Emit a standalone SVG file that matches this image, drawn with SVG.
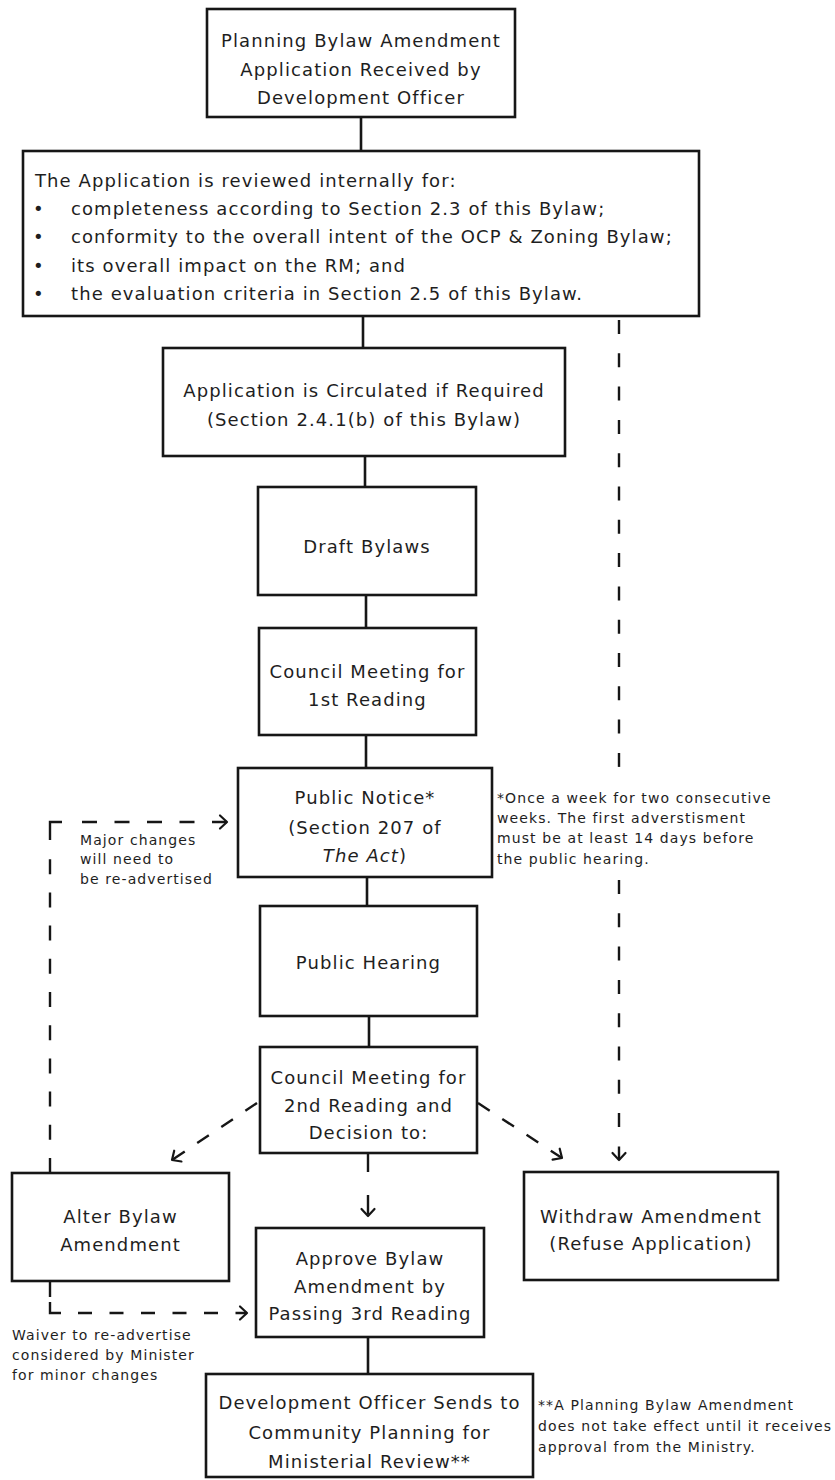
<svg xmlns="http://www.w3.org/2000/svg" width="835" height="1480" viewBox="0 0 835 1480">
<style>
.box{fill:#fff;stroke:#161616;stroke-width:2.6}
.t{font-family:"DejaVu Sans",sans-serif;font-size:18px;letter-spacing:1.1px;fill:#1e1e1e;text-anchor:middle}
.tl{font-family:"DejaVu Sans",sans-serif;font-size:18px;letter-spacing:1.1px;fill:#1e1e1e}
.n{font-family:"DejaVu Sans",sans-serif;font-size:14px;letter-spacing:1.1px;fill:#1e1e1e}
.c{stroke:#161616;stroke-width:2.6;fill:none}
.d{stroke:#161616;stroke-width:2.4;fill:none}
</style>
<defs>
<marker id="arr" viewBox="-10 -10 20 20" markerWidth="20" markerHeight="20" refX="0" refY="0" orient="auto" markerUnits="userSpaceOnUse">
<path d="M-7,-6.5 L0,0 L-7,6.5" fill="none" stroke="#161616" stroke-width="2.2" stroke-linecap="round" stroke-linejoin="round"/>
</marker>
</defs>
<rect width="835" height="1480" fill="#fff"/>
<g id="connectors">
<line class="c" x1="361" y1="117" x2="361" y2="151"/>
<line class="c" x1="363" y1="316" x2="363" y2="348"/>
<line class="c" x1="365" y1="456" x2="365" y2="487"/>
<line class="c" x1="366" y1="595" x2="366" y2="628"/>
<line class="c" x1="366" y1="735" x2="366" y2="768"/>
<line class="c" x1="367" y1="877" x2="367" y2="906"/>
<line class="c" x1="369" y1="1016" x2="369" y2="1047"/>
<line class="c" x1="368" y1="1337" x2="368" y2="1374"/>
<line class="d" x1="368" y1="1153" x2="368" y2="1216" stroke-dasharray="19 23" marker-end="url(#arr)"/>
<line class="d" x1="257" y1="1103" x2="172" y2="1160" stroke-dasharray="14 15" marker-end="url(#arr)"/>
<line class="d" x1="478" y1="1103" x2="562" y2="1158" stroke-dasharray="14 15" marker-end="url(#arr)"/>
<line class="d" x1="619" y1="320" x2="619" y2="767" stroke-dasharray="14 19.3"/>
<line class="d" x1="619" y1="880" x2="619" y2="1160" stroke-dasharray="14 19.3" marker-end="url(#arr)"/>
<line class="d" x1="50" y1="1173" x2="50" y2="858" stroke-dasharray="15 18.2"/>
<path class="d" d="M50,840 V822 H62"/>
<line class="d" x1="82" y1="822" x2="227" y2="822" stroke-dasharray="15 17.5" marker-end="url(#arr)"/>
<line class="d" x1="50" y1="1282" x2="50" y2="1297"/>
<path class="d" d="M50,1302 V1313 H61"/>
<line class="d" x1="78" y1="1313" x2="247" y2="1313" stroke-dasharray="14 17.5" marker-end="url(#arr)"/>
</g>
<g id="n1"><rect class="box" x="207" y="9" width="308" height="108"/>
<text class="t" x="361" y="47">Planning Bylaw Amendment</text>
<text class="t" x="361" y="75.5">Application Received by</text>
<text class="t" x="361" y="104">Development Officer</text></g>
<g id="n2"><rect class="box" x="23" y="151" width="676" height="165"/>
<text class="tl" x="35" y="187">The Application is reviewed internally for:</text>
<text class="tl" x="33" y="215">•</text><text class="tl" x="71" y="215">completeness according to Section 2.3 of this Bylaw;</text>
<text class="tl" x="33" y="243">•</text><text class="tl" x="71" y="243">conformity to the overall intent of the OCP &amp; Zoning Bylaw;</text>
<text class="tl" x="33" y="272">•</text><text class="tl" x="71" y="272">its overall impact on the RM; and</text>
<text class="tl" x="33" y="300">•</text><text class="tl" x="71" y="300">the evaluation criteria in Section 2.5 of this Bylaw.</text></g>
<g id="n3"><rect class="box" x="163" y="348" width="402" height="108"/>
<text class="t" x="364" y="397">Application is Circulated if Required</text>
<text class="t" x="364" y="426">(Section 2.4.1(b) of this Bylaw)</text></g>
<g id="n4"><rect class="box" x="258" y="487" width="218" height="108"/>
<text class="t" x="367" y="553">Draft Bylaws</text></g>
<g id="n5"><rect class="box" x="259" y="628" width="217" height="107"/>
<text class="t" x="367.5" y="678">Council Meeting for</text>
<text class="t" x="367.5" y="706">1st Reading</text></g>
<g id="n6"><rect class="box" x="238" y="768" width="254" height="109"/>
<text class="t" x="365" y="804">Public Notice*</text>
<text class="t" x="365" y="834">(Section 207 of</text>
<text class="t" x="365" y="862"><tspan font-style="italic">The Act</tspan>)</text></g>
<g id="n7"><rect class="box" x="260" y="906" width="217" height="110"/>
<text class="t" x="368.5" y="969">Public Hearing</text></g>
<g id="n8"><rect class="box" x="260" y="1047" width="217" height="106"/>
<text class="t" x="368.5" y="1084">Council Meeting for</text>
<text class="t" x="368.5" y="1112">2nd Reading and</text>
<text class="t" x="368.5" y="1139">Decision to:</text></g>
<g id="n9"><rect class="box" x="12" y="1173" width="217" height="108"/>
<text class="t" x="120.5" y="1223">Alter Bylaw</text>
<text class="t" x="120.5" y="1251">Amendment</text></g>
<g id="n10"><rect class="box" x="256" y="1228" width="228" height="109"/>
<text class="t" x="370" y="1265">Approve Bylaw</text>
<text class="t" x="370" y="1293">Amendment by</text>
<text class="t" x="370" y="1320">Passing 3rd Reading</text></g>
<g id="n11"><rect class="box" x="524" y="1172" width="254" height="108"/>
<text class="t" x="651" y="1223">Withdraw Amendment</text>
<text class="t" x="651" y="1250">(Refuse Application)</text></g>
<g id="n12"><rect class="box" x="206" y="1374" width="327" height="103"/>
<text class="t" x="369.5" y="1409">Development Officer Sends to</text>
<text class="t" x="369.5" y="1439">Community Planning for</text>
<text class="t" x="369.5" y="1468">Ministerial Review**</text></g>
<g id="notes">
<text class="n" x="80" y="845">Major changes</text>
<text class="n" x="80" y="864">will need to</text>
<text class="n" x="80" y="884">be re-advertised</text>
<text class="n" x="497" y="803">*Once a week for two consecutive</text>
<text class="n" x="497" y="823">weeks. The first adverstisment</text>
<text class="n" x="497" y="843">must be at least 14 days before</text>
<text class="n" x="497" y="864">the public hearing.</text>
<text class="n" x="12" y="1340">Waiver to re-advertise</text>
<text class="n" x="12" y="1360">considered by Minister</text>
<text class="n" x="12" y="1380">for minor changes</text>
<text class="n" x="538" y="1410">**A Planning Bylaw Amendment</text>
<text class="n" x="538" y="1431">does not take effect until it receives</text>
<text class="n" x="538" y="1452">approval from the Ministry.</text>
</g>
</svg>
